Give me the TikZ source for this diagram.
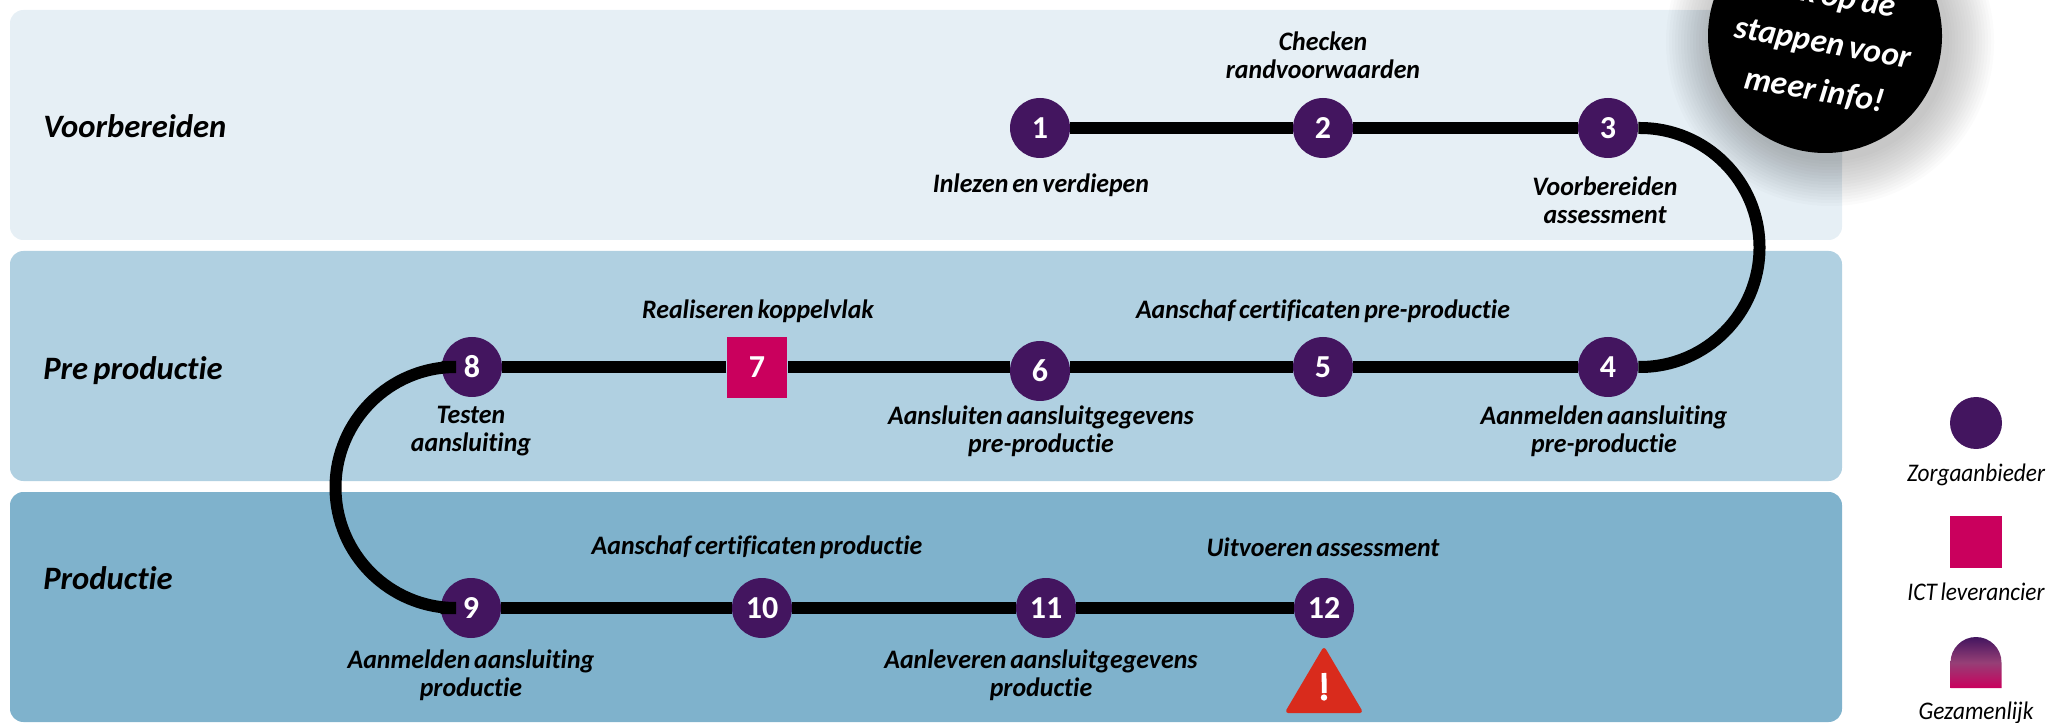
\documentclass[tikz,border=0pt]{standalone}
\usepackage{fontspec}
\setmainfont{Carlito}[RawFeature={-liga;-clig;-dlig;-calt},WordSpace=0.7]
\newfontfamily\labfont{Carlito}[RawFeature={-liga;-clig;-dlig;-calt},WordSpace=0.65,FakeStretch=0.97]
\newfontfamily\legfont{Carlito}[RawFeature={-liga;-clig;-dlig;-calt},WordSpace=0.7,FakeStretch=0.92]
\usetikzlibrary{calc}
\definecolor{bandA}{HTML}{E6EFF5}
\definecolor{bandB}{HTML}{B0D0E1}
\definecolor{bandC}{HTML}{7FB2CC}
\definecolor{plum}{HTML}{43155F}
\definecolor{berry}{HTML}{CA005D}
\definecolor{mauve}{HTML}{963F76}
\definecolor{alarm}{HTML}{D92B1C}
\tikzset{
  x=0.75pt,y=-0.75pt,
  band/.style={fill=#1,draw=none,rounded corners=10pt},
  track/.style={draw=black,line width=9pt},
  stepdot/.style={circle,fill=plum,text=white,minimum size=45pt,inner sep=0pt,font=\fontsize{24}{24}\selectfont\bfseries},
  stepsq/.style={rectangle,fill=berry,text=white,minimum size=45.5pt,inner sep=0pt,font=\fontsize{24}{24}\selectfont\bfseries},
  lab/.style={align=center,inner sep=0pt,font=\labfont\fontsize{20}{21}\selectfont\bfseries\itshape,text=black},
  head/.style={anchor=west,inner sep=0pt,font=\fontsize{24.5}{26}\selectfont\bfseries\itshape,text=black},
  leg/.style={inner sep=0pt,font=\legfont\fontsize{19}{20}\selectfont\itshape,text=black},
}
\begin{document}
\begin{tikzpicture}
\useasboundingbox (0,0) rectangle (2067,723);
\clip (0,0) rectangle (2067,723);
% bands
\path[band=bandA] (10,10) rectangle (1842,240);
\path[band=bandB] (10,251) rectangle (1842,481);
\path[band=bandC] (10,492) rectangle (1842,722);
% badge shadow
\foreach \r in {119,122,...,164}{
  \fill[black,opacity=0.014] (1830,42) circle[radius=\r];
}
\node[circle,fill=black,minimum size=175.5pt,inner sep=0pt] (badge) at (1825,36) {};
\node[rotate=-10,align=center,text=white,inner sep=0pt,font=\fontsize{25}{36}\selectfont\bfseries\itshape] (badgetext) at (1823,43.5) {Klik op de\\stappen voor\\meer info!};
% headings
\node[head] (h1) at (43,126) {Voorbereiden};
\node[head] (h2) at (43,371) {Pre productie};
\node[head] (h3) at (43,578) {Productie};
% steps
\node[stepdot] (n1) at (1040,128) {1};
\node[stepdot] (n2) at (1323,128) {2};
\node[stepdot] (n3) at (1608,128) {3};
\node[stepdot] (n4) at (1608,367) {4};
\node[stepdot] (n5) at (1323,367) {5};
\node[stepdot] (n6) at (1040,371) {6};
\node[stepsq]  (n7) at (757,367.5) {7};
\node[stepdot] (n8) at (472,367) {8};
\node[stepdot] (n9) at (471,608) {9};
\node[stepdot] (n10) at (762,608) {10};
\node[stepdot] (n11) at (1046,608) {11};
\node[stepdot] (n12) at (1324,608) {12};
% connectors
\draw[track] (n1) -- (n2);
\draw[track] (n2) -- (n3);
\draw[track] (n3.east) -- (1640,128) arc[start angle=-90,end angle=90,radius=119.5] -- (n4.east);
\draw[track] (n4) -- (n5);
\draw[track] (n5.west) -- (n6.east|-n5.west);
\draw[track] (n6.west|-n5.west) -- (n7.east|-n5.west);
\draw[track] (n7.west|-n8.east) -- (n8.east);
\draw[track] (n8.west) -- (456,367) arc[start angle=270,end angle=90,radius=120.5] -- (n9.west);
\draw[track] (n9) -- (n10);
\draw[track] (n10) -- (n11);
\draw[track] (n11) -- (n12);
% labels
\node[lab] (l2) at (1323,55.5) {Checken\\randvoorwaarden};
\node[lab] (l1) at (1041,185.5) {Inlezen en verdiepen};
\node[lab] (l3) at (1605,200) {Voorbereiden\\assessment};
\node[lab] (l7) at (758,311) {Realiseren koppelvlak};
\node[lab] (l5) at (1323,311) {Aanschaf certificaten pre-productie};
\node[lab] (l6) at (1041,431) {Aansluiten aansluitgegevens\\pre-productie};
\node[lab] (l4) at (1604,431) {Aanmelden aansluiting\\pre-productie};
\node[lab] (l8) at (471,431) {Testen\\aansluiting};
\node[lab] (l10) at (757,547) {Aanschaf certificaten productie};
\node[lab] (l12) at (1323,547) {Uitvoeren assessment};
\node[lab] (l9) at (471,675) {Aanmelden aansluiting\\productie};
\node[lab] (l11) at (1041,675) {Aanleveren aansluitgegevens\\productie};
% warning
\fill[alarm,draw=alarm,line width=3pt,line join=round] (1324,650) -- (1360,711) -- (1288,711) -- cycle;
\draw[white,line width=3.6pt] (1324,673) -- (1324.3,693);
\fill[white] (1324,697.5) circle[radius=3.2];
% legend
\node[circle,fill=plum,minimum size=39pt,inner sep=0pt] (k1) at (1976,423) {};
\node[leg] (t1) at (1976,475) {Zorgaanbieder};
\node[rectangle,fill=berry,minimum size=39pt,inner sep=0pt] (k2) at (1976,542) {};
\node[leg] (t2) at (1976,592) {ICT leverancier};
\shade[top color=plum,bottom color=berry,middle color=mauve] (1950.5,688) -- (1950.5,662.5) arc[start angle=180,end angle=360,radius=25.5] -- (2001.5,688) -- cycle;
\node[leg] (t3) at (1976,713) {Gezamenlijk};
\end{tikzpicture}
\end{document}
